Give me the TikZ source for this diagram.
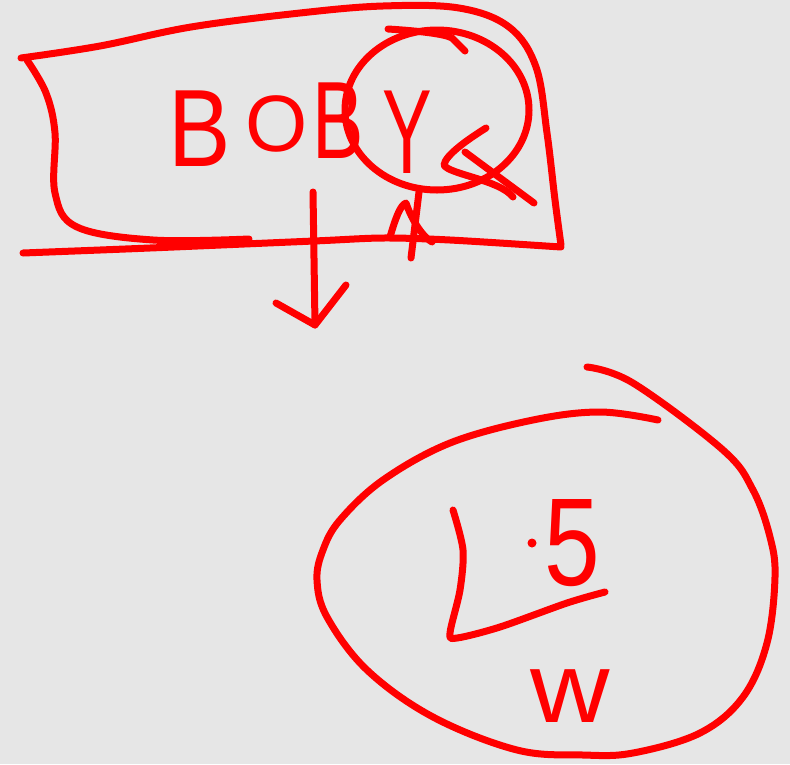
\documentclass[tikz,border=0pt]{standalone}
\usepackage{fontspec}
\setmainfont{Liberation Sans}
\usepackage{xcolor}
\usepackage{tikz}
\definecolor{Stift}{RGB}{255,0,0}
\definecolor{Papier}{RGB}{230,230,230}
\tikzset{
  Strich/.style={draw=Stift,line width=#1,line cap=round,line join=round}, % Stiftstrich
  Strich/.default=7pt,
  Zeichen/.style={text=Stift,inner sep=0pt,anchor=base,font=\fontsize{#1}{#1}\selectfont} % handgeschriebene Zeichen
}
\begin{document}
\begin{tikzpicture}[x=1pt,y=-1pt]
\fill[Papier] (0,0) rectangle (790,764);
\useasboundingbox (0,0) rectangle (790,764);

%Schild
\draw[Strich] plot[smooth,tension=0.6] coordinates {(21,58) (100,46) (191,27) (300,13) (383,6) (459,8) (509,27) (536,67) (547,133) (555,200) (561,245)};
\draw[Strich] plot[smooth,tension=0.5] coordinates {(561,247) (450,240) (383,238) (314,241) (150,248) (23,253)};
\draw[Strich] plot[smooth,tension=0.6] coordinates {(27,60) (46,93) (55,133) (55,193) (77,227) (153,240) (249,239)};

%Schrift
\node[Zeichen=110,xscale=0.85,transform shape] (B1) at (200,166) {B};
\node[Zeichen=80]  (O1) at (277,151) {O};
\node[Zeichen=110,xscale=0.7,transform shape] (B2) at (338,158) {B};
\node[Zeichen=120,xscale=0.62,transform shape] (Y1) at (407,173) {Y};

%Kreis um Y
\draw[Strich] (437,110) ellipse [x radius=92,y radius=80];
\draw[Strich] (388,29) .. controls (420,31) and (445,34) .. (452,38) -- (465,51);
\draw[Strich] (486,128) .. controls (470,138) and (445,155) .. (444,165) .. controls (448,174) and (500,180) .. (513,197);
\draw[Strich] (465,152) -- (534,203);
\draw[Strich] (419,192) -- (411,258);
\draw[Strich] (390,237) .. controls (395,220) and (400,205) .. (406,203) .. controls (410,215) and (420,235) .. (432,242);

%Pfeil
\coordinate (PA) at (313,192);
\coordinate (PS) at (315,325);
\coordinate (PL) at (276,303);
\coordinate (PR) at (346,285);
\draw[Strich] (PA) -- (PS);
\draw[Strich] (PL) -- (PS) -- (PR);

%Oval
\draw[Strich] plot[smooth,tension=0.6] coordinates {(658,420) (600,412) (533,420) (450,443) (383,480) (340,520) (323,550) (317,580) (327,617) (367,670) (433,717) (517,750) (583,755) (633,753) (700,733) (743,697) (767,643) (775,577) (770,537) (753,490) (723,450) (633,383) (587,367)};

%Inhalt
\draw[Strich] plot[smooth,tension=0.5] coordinates {(453,510) (463,550) (460,590) (450,633) (457,638) (500,627) (567,603) (605,592)};
\node[circle,fill=Stift,inner sep=0pt,minimum size=9pt] (Punkt) at (532,543) {};
\node[Zeichen=125,xscale=0.8,transform shape] (Z5) at (572,585) {5};
\node[Zeichen=100,xscale=1.1,transform shape] (W1) at (570,722) {w};

\end{tikzpicture}
\end{document}
